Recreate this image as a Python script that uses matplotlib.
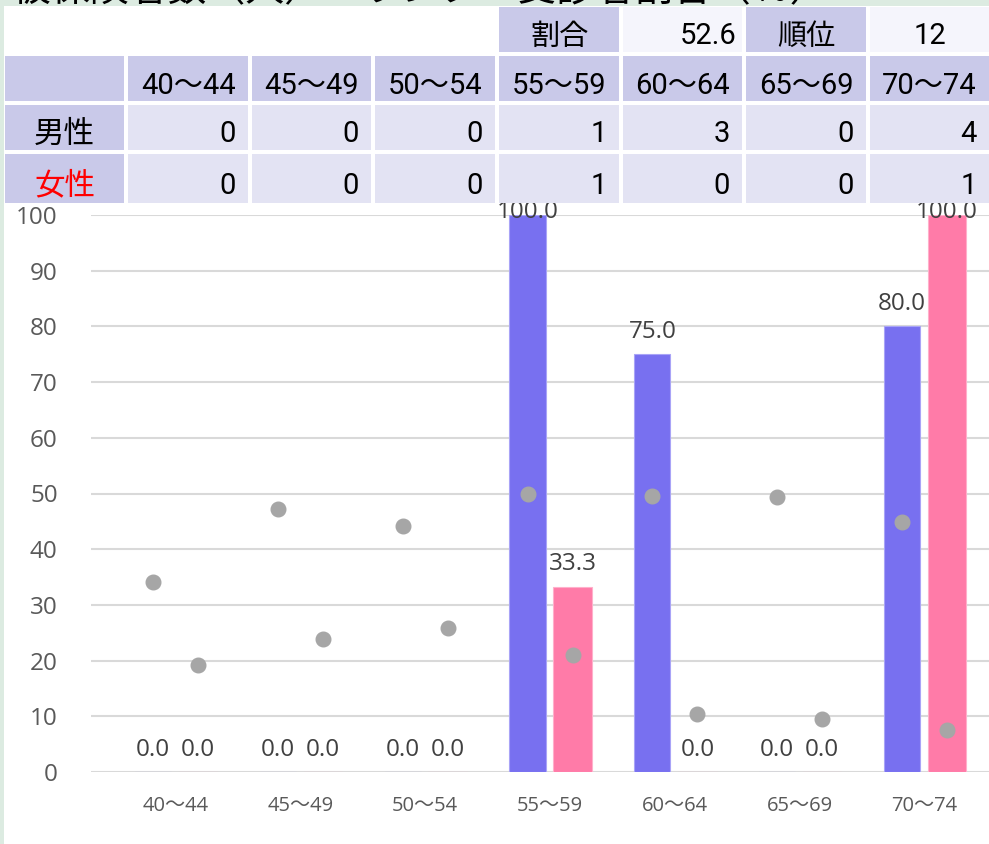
import matplotlib
matplotlib.use("Agg")
import matplotlib.pyplot as plt
from matplotlib.patches import Rectangle
import numpy as np

plt.rcParams["font.family"] = ["Noto Sans CJK JP", "DejaVu Sans"]
chart_font = ["Open Sans", "Noto Sans CJK JP"]
table_font = ["Roboto", "Noto Sans CJK JP"]

# データ
age_groups = ["40〜44", "45〜49", "50〜54", "55〜59", "60〜64", "65〜69", "70〜74"]
male_counts = [0, 0, 0, 1, 3, 0, 4]
female_counts = [0, 0, 0, 1, 0, 0, 1]
male_rate = [0.0, 0.0, 0.0, 100.0, 75.0, 0.0, 80.0]
female_rate = [0.0, 0.0, 0.0, 33.3, 0.0, 0.0, 100.0]
male_ref = [34.1, 47.2, 44.2, 50.0, 49.6, 49.3, 44.8]
female_ref = [19.2, 23.8, 25.9, 21.0, 10.4, 9.5, 7.6]
ratio_value = 52.6
rank_value = 12

W, H = 989, 844
fig = plt.figure(figsize=(W / 100, H / 100), dpi=100)
fig.patch.set_facecolor("#dcebe1")

# 上部で切れているタイトル（下端だけ見える）
tt = fig.add_axes([0, 1 - 6 / H, 1, 6 / H], zorder=1)
tt.axis("off")
tt.set_xlim(0, W)
tt.set_ylim(0, 1)
tt.text(12, 0.75, "被保険者数（人）・ランク　受診者割合（％）", fontsize=28,
        color="black", va="baseline", ha="left", clip_on=True)

# 白い背景パネル
fig.patches.append(Rectangle((4 / W, 0), 1 - 4 / W, 1 - 6 / H, transform=fig.transFigure,
                             facecolor="white", edgecolor="none", zorder=0.5))

# グラフ
ax = fig.add_axes([91 / W, (H - 772) / H, (W - 91) / W, (772 - 215) / H], zorder=2)
ax.patch.set_visible(False)
x = np.arange(len(age_groups))
off = 0.18
ax.bar(x - off, male_rate, width=0.29, color="#7870f0", edgecolor="#a9a4f7", linewidth=0.8, zorder=2)
ax.bar(x + off, female_rate, width=0.31, color="#ff7ba8", edgecolor="#ffb0cb", linewidth=0.8, zorder=2)
ax.plot(x - off, male_ref, "o", color="#a6a6a6", markersize=10.5, zorder=3)
ax.plot(x + off, female_ref, "o", color="#a6a6a6", markersize=10.5, zorder=3)

for xs, vals in ((x - off, male_rate), (x + off, female_rate)):
    for xi, v in zip(xs, vals):
        ax.text(xi, min(v + 4.0, 100.5), f"{v:.1f}", ha="center", va="center",
                fontsize=17.5, color="#404040", family=chart_font, clip_on=False, zorder=4)

ax.set_xlim(-0.678, 6.517)
ax.set_ylim(0, 100)
ax.set_yticks(range(0, 101, 10))
ax.set_xticks(x)
ax.set_xticklabels(age_groups)
for lab in ax.get_xticklabels() + ax.get_yticklabels():
    lab.set_family(chart_font)
ax.tick_params(axis="y", length=0, pad=24, labelsize=17.5, labelcolor="#595959")
ax.tick_params(axis="x", length=0, pad=17, labelsize=14.5, labelcolor="#595959")
ax.yaxis.grid(True, color="#d9d9d9", linewidth=1.5)
ax.set_axisbelow(True)
for s in ax.spines.values():
    s.set_visible(False)

# 表（グラフの上に重ねる）
tb = fig.add_axes([0, 0, 1, 1], zorder=3)
tb.set_xlim(0, W)
tb.set_ylim(H, 0)
tb.axis("off")
tb.patch.set_visible(False)

col_l = [5, 128, 252, 375, 499, 623, 746, 870]
col_r = [124, 248, 371, 495, 619, 742, 866, 989]
rows = [(7, 52), (56, 101), (105, 150), (154, 203)]
dark = "#c9c9e9"
light = "#e3e3f3"
pale = "#f5f5fc"


def cell(c, r, color):
    tb.add_patch(Rectangle((col_l[c], rows[r][0]), col_r[c] - col_l[c], rows[r][1] - rows[r][0],
                           facecolor=color, edgecolor="none"))


def ctext(c, r, s, ha="center", color="black", size=21, pad=12):
    y = (rows[r][0] + rows[r][1]) / 2 + 4
    if ha == "center":
        xx = (col_l[c] + col_r[c]) / 2
    else:
        xx = col_r[c] - pad
    tb.text(xx, y, s, ha=ha, va="center_baseline", fontsize=size, color=color, family=table_font)


# 上段：割合・順位
cell(4, 0, dark)
cell(5, 0, pale)
cell(6, 0, dark)
cell(7, 0, pale)
ctext(4, 0, "割合")
ctext(5, 0, f"{ratio_value:.1f}", ha="right", pad=5)
ctext(6, 0, "順位")
ctext(7, 0, str(rank_value))

# 見出し行
cell(0, 1, dark)
for i, g in enumerate(age_groups):
    cell(i + 1, 1, dark)
    ctext(i + 1, 1, g)

cell(0, 2, dark)
ctext(0, 2, "男性", size=22)
cell(0, 3, dark)
ctext(0, 3, "女性", color="red", size=22)
for i in range(len(age_groups)):
    cell(i + 1, 2, light)
    ctext(i + 1, 2, str(male_counts[i]), ha="right")
    cell(i + 1, 3, light)
    ctext(i + 1, 3, str(female_counts[i]), ha="right")

fig.savefig("out.png", dpi=100, facecolor=fig.get_facecolor())
